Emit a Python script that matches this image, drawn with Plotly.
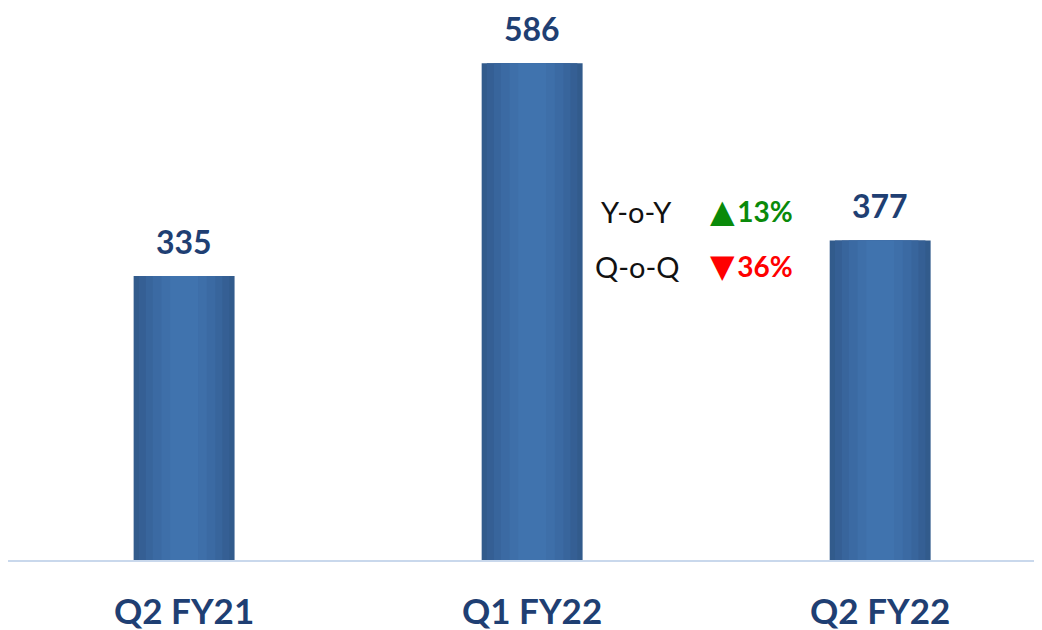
import plotly.graph_objects as go

categories = ["Q2 FY21", "Q1 FY22", "Q2 FY22"]
values = [335, 586, 377]
yoy_label = "Y-o-Y"
yoy_value = "13%"
qoq_label = "Q-o-Q"
qoq_value = "36%"

fig = go.Figure()

# layered bars to mimic the horizontal gradient (dark edges, lighter centre)
layers = [
    (0.29, "#325b8c"),
    (0.26, "#355f94"),
    (0.22, "#38659c"),
    (0.18, "#3b6aa3"),
    (0.13, "#3e6fa9"),
    (0.08, "#4073ae"),
]
for w, c in layers:
    fig.add_trace(go.Bar(
        x=categories, y=values, width=w,
        marker=dict(color=c, line=dict(width=0)),
        hoverinfo="skip", showlegend=False,
    ))

for cat, v in zip(categories, values):
    fig.add_annotation(
        x=cat, y=v, text=f"<b>{v}</b>", showarrow=False,
        yanchor="bottom", yshift=13,
        font=dict(family="Lato", size=32, color="#1f3f73"),
    )

txt_font = dict(family="Lato", size=29, color="#111111")
fig.add_annotation(xref="paper", yref="paper", x=0.608, y=0.646, text=yoy_label,
                   showarrow=False, xanchor="center", yanchor="middle", font=txt_font)
fig.add_annotation(xref="paper", yref="paper", x=0.608, y=0.544, text=qoq_label,
                   showarrow=False, xanchor="center", yanchor="middle", font=txt_font)
tri_style = "font-family:DejaVu Sans;font-size:32px"
gap = "<span style='font-size:10px'> </span>"
fig.add_annotation(xref="paper", yref="paper", x=0.719, y=0.646,
                   text=f"<span style='{tri_style}'>▲</span>{gap}<b>{yoy_value}</b>",
                   showarrow=False, xanchor="center", yanchor="middle",
                   font=dict(family="Lato", size=28, color="#0a8a0a"))
fig.add_annotation(xref="paper", yref="paper", x=0.719, y=0.544,
                   text=f"<span style='{tri_style}'>▼</span>{gap}<b>{qoq_value}</b>",
                   showarrow=False, xanchor="center", yanchor="middle",
                   font=dict(family="Lato", size=28, color="#ff0000"))

fig.update_layout(
    width=1034, height=622,
    margin=dict(l=0, r=0, t=12, b=70),
    barmode="overlay",
    plot_bgcolor="white", paper_bgcolor="white",
    xaxis=dict(
        type="category", range=[-0.506, 2.465],
        showline=True, linecolor="#c9d8ec", linewidth=2,
        showgrid=False, zeroline=False, ticks="",
        tickfont=dict(family="Lato", size=35, color="#1f3f73"),
        ticklabelstandoff=20,
        tickprefix="<b>", ticksuffix="</b>",
    ),
    yaxis=dict(range=[0, 637], visible=False, showgrid=False, zeroline=False),
)

fig.write_html("out.html")
